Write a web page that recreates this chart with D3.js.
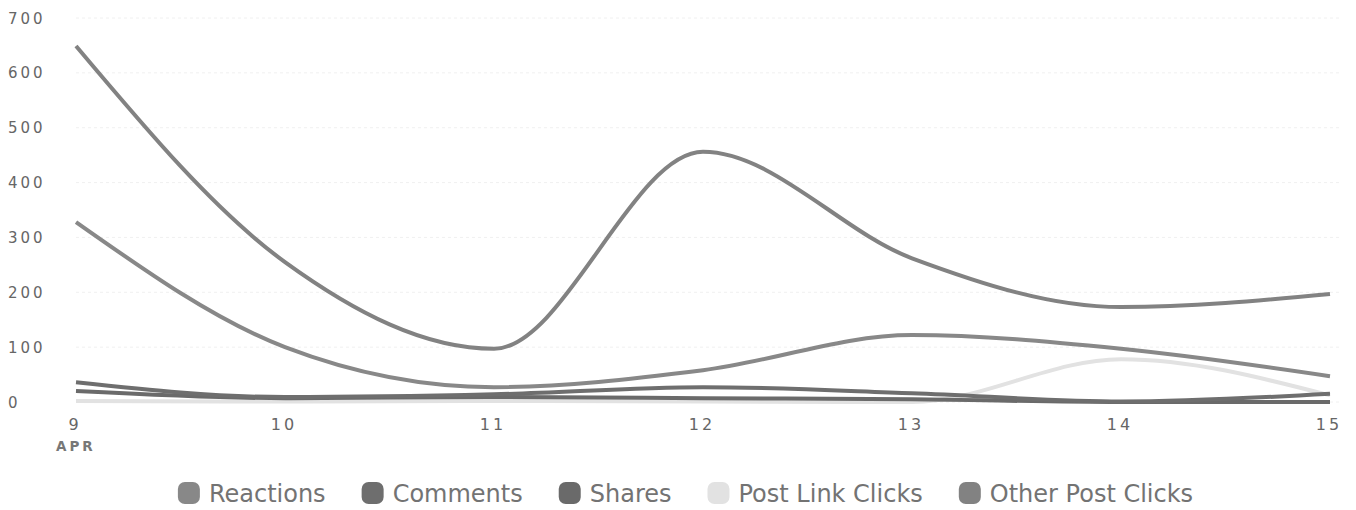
<!DOCTYPE html>
<html><head><meta charset="utf-8">
<script src="https://cdn.jsdelivr.net/npm/d3@7"></script>
<style>body{margin:0;background:#fff}svg{display:block}</style>
</head><body><svg id="c" width="1356" height="510"></svg>
<script>
const days = [9, 10, 11, 12, 13, 14, 15];
const yTicks = [0, 100, 200, 300, 400, 500, 600, 700];
const seriesNames = ["Reactions", "Comments", "Shares", "Post Link Clicks", "Other Post Clicks"];
const reactions = [328, 100, 27, 58, 122, 97, 47];
const comments = [36, 9, 14, 27, 16, 1, 15];
const shares = [20, 7, 9, 7, 5, 0, 0];
const postLinkClicks = [2, 1, 2, 1, 0, 78, 12];
const otherPostClicks = [649, 255, 97, 456, 262, 173, 197];
const colors = ["#888888", "#6e6e6e", "#6a6a6a", "#e2e2e2", "#828282"];

const svg = d3.select("#c");
const x = d3.scaleLinear().domain([9, 15]).range([76, 1330]);
const y = d3.scaleLinear().domain([0, 700]).range([402, 18]);

// grid
svg.append("g").selectAll("line").data(yTicks).join("line")
  .attr("x1", 76).attr("x2", 1340)
  .attr("y1", d => y(d)).attr("y2", d => y(d))
  .attr("stroke", "#f0f0f0").attr("stroke-width", 1).attr("stroke-dasharray", "3,3");

// y labels
svg.append("g").selectAll("text").data(yTicks).join("text")
  .attr("x", 8).attr("y", d => y(d) + 5.5)
  .attr("font-family", "DejaVu Sans").attr("font-size", 15).attr("letter-spacing", 3)
  .attr("fill", "#666").text(d => d);

// x labels
svg.append("g").selectAll("text").data(days).join("text")
  .attr("x", d => x(d) - 1).attr("y", 430).attr("text-anchor", "middle")
  .attr("font-family", "DejaVu Sans").attr("font-size", 16).attr("letter-spacing", 3)
  .attr("fill", "#666").text(d => d);
svg.append("text").attr("x", 56).attr("y", 451)
  .attr("font-family", "DejaVu Sans").attr("font-weight", "bold").attr("font-size", 13.5).attr("letter-spacing", 3)
  .attr("fill", "#777").text("APR");

const data = [reactions, comments, shares, postLinkClicks, otherPostClicks];
const line = d3.line().x((d, i) => x(days[i])).y(d => y(d)).curve(d3.curveMonotoneX);
const order = [3, 2, 1, 0, 4];
svg.append("g").selectAll("path").data(order).join("path")
  .attr("d", k => line(data[k])).attr("fill", "none")
  .attr("stroke", k => colors[k]).attr("stroke-width", 4)
  .attr("stroke-linejoin", "round");

// legend
const lg = svg.append("g");
let cx = 0;
const gap = 36;
seriesNames.forEach((n, i) => {
  const g = lg.append("g").attr("transform", `translate(${cx},0)`);
  g.append("rect").attr("x", 0).attr("y", -11).attr("width", 22).attr("height", 22).attr("rx", 7)
    .attr("fill", colors[i]);
  const t = g.append("text").attr("x", 31).attr("y", 9)
    .attr("font-family", "DejaVu Sans").attr("font-size", 24).attr("fill", "#737373").text(n);
  const w = t.node().getComputedTextLength();
  cx += 31 + w + gap;
});
const total = cx - gap;
lg.attr("transform", `translate(${685.5 - total / 2},493)`);
</script></body></html>
